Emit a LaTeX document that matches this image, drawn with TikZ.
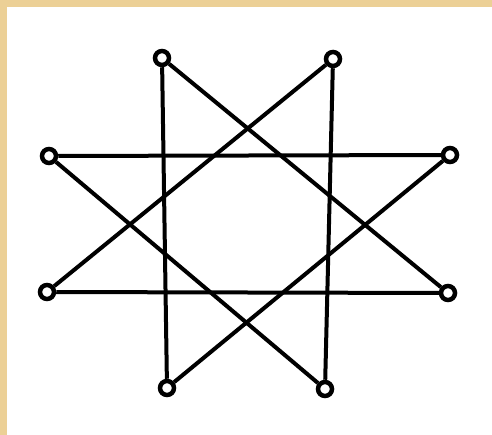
\documentclass[tikz,border=0pt]{standalone}
\definecolor{tan}{RGB}{236,208,150}
\tikzset{ring/.style={circle,draw,fill=white,line width=4.5pt,inner sep=0pt,minimum size=14pt}}
\begin{document}
\begin{tikzpicture}[x=1pt,y=-1pt,line width=4pt]
\useasboundingbox (0,0) rectangle (492,435);
\fill[tan] (-5,-5) rectangle (497,440);
\fill[white] (7,7) rectangle (497,440);
\node[ring] (tl) at (162,58) {};
\node[ring] (tr) at (333,59) {};
\node[ring] (lu) at (49,156) {};
\node[ring] (ru) at (450,155) {};
\node[ring] (ll) at (47,292) {};
\node[ring] (rl) at (448,293) {};
\node[ring] (bl) at (167,388) {};
\node[ring] (br) at (325,389) {};
\draw (tl) -- (bl);
\draw (tl) -- (rl);
\draw (tr) -- (br);
\draw (tr) -- (ll);
\draw (lu) -- (ru);
\draw (lu) -- (br);
\draw (ru) -- (bl);
\draw (ll) -- (rl);
\end{tikzpicture}
\end{document}
